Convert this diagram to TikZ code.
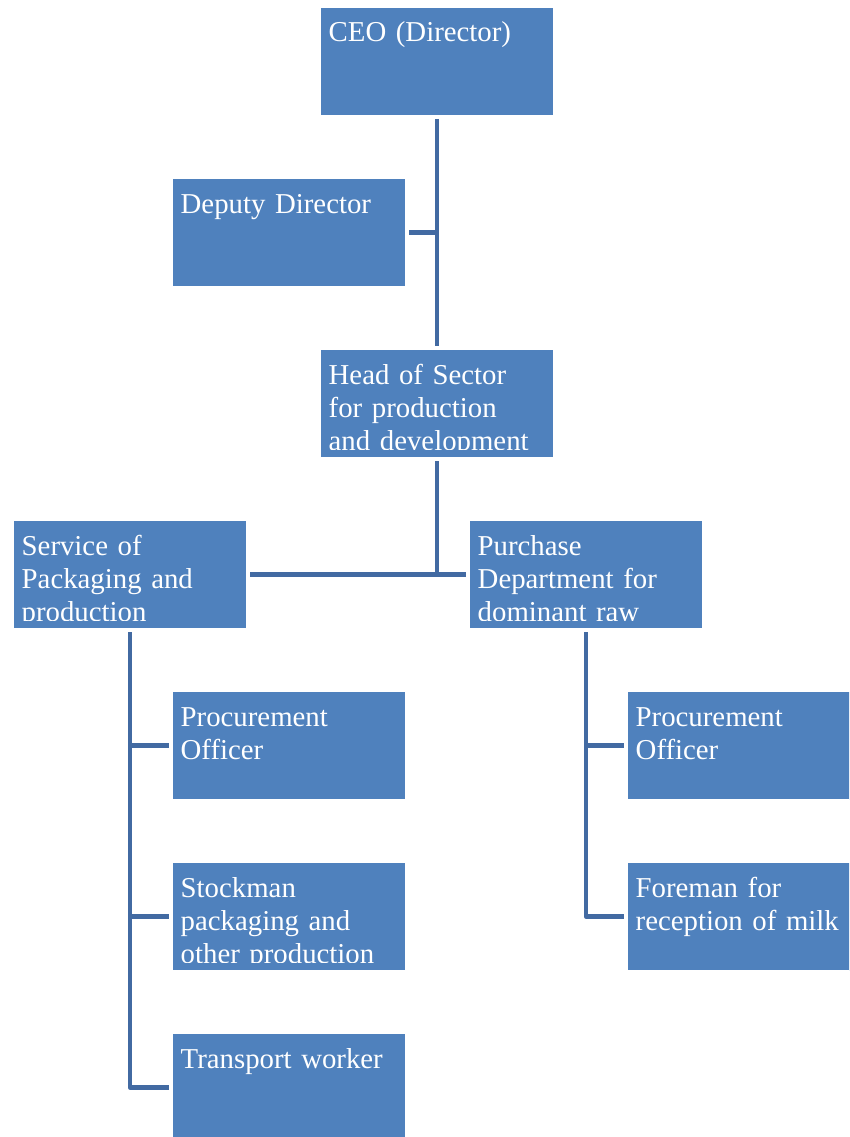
\documentclass[tikz,border=0pt]{standalone}
\usepackage{fontspec}
\setmainfont{Liberation Serif}
\definecolor{boxblue}{RGB}{79,129,189}
\definecolor{linkblue}{RGB}{66,106,162}

% one org-chart unit: filled box plus its caption, clipped above the bottom edge
\newcommand\orgunit[4]{%
  \node[unit] (#1) at (#2,#3) {};
  \begin{scope}
    \clip ({#2+2},{#3+1}) rectangle ({#2+231},{#3+100});
    \node[caption] (#1-text) at ({#2+8.5},{#3+35}) {#4};
  \end{scope}}

\begin{document}
\begin{tikzpicture}[x=1pt,y=-1pt,
  unit/.style={anchor=north west, fill=boxblue, draw=white, line width=1pt,
               minimum width=233pt, minimum height=108pt, inner sep=0pt},
  caption/.style={anchor=base west, inner sep=0pt, text=white, align=left,
               text width=224pt, font=\fontsize{28.8}{33}\selectfont},
  link/.style={draw=linkblue, line width=4.8pt, line join=round}]

\useasboundingbox (0,0) rectangle (849,1137);
\clip (0,0) rectangle (849,1137);

\orgunit{ceo}{320}{7}{CEO (Director)}
\orgunit{deputy}{172}{178}{Deputy Director}
\orgunit{head}{320}{349}{Head of Sector\\for production\\and development}
\orgunit{service}{13}{520}{Service of\\Packaging and\\production}
\orgunit{purchase}{469}{520}{Purchase\\Department for\\dominant raw}
\orgunit{procL}{172}{691}{Procurement\\Officer}
\orgunit{stock}{172}{862}{Stockman\\packaging and\\other production}
\orgunit{transport}{172}{1033}{Transport worker}
\orgunit{procR}{627}{691}{Procurement\\Officer}
\orgunit{foreman}{627}{862}{Foreman for\\reception of milk}

% top of the chart: director, deputy, head of sector
\draw[link] ([yshift=-3pt]ceo.south) -- ([yshift=3pt]head.north);
\draw[link] ([xshift=3pt]deputy.east) -- (deputy.east -| ceo.south);

% head of sector to the two departments
\coordinate (bar) at (head.south |- service.east);
\draw[link] ([yshift=-3pt]head.south) -- (bar);
\draw[link] ([xshift=3pt]service.east) -- ([xshift=-3pt]purchase.west);

% packaging and production staff
\draw[link] ([yshift=-3pt]service.south) |- ([xshift=-3pt]transport.west);
\draw[link] (procL.west -| service.south) -- ([xshift=-3pt]procL.west);
\draw[link] (stock.west -| service.south) -- ([xshift=-3pt]stock.west);

% purchase department staff
\draw[link] ([yshift=-3pt]purchase.south) |- ([xshift=-3pt]foreman.west);
\draw[link] (procR.west -| purchase.south) -- ([xshift=-3pt]procR.west);
\end{tikzpicture}
\end{document}
